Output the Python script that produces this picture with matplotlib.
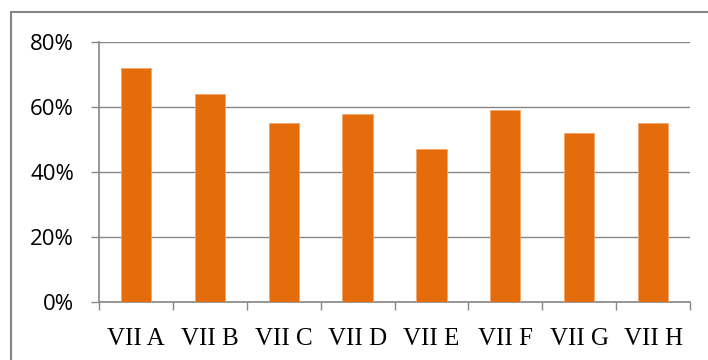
import matplotlib.pyplot as plt
from matplotlib.patches import Rectangle
from matplotlib.ticker import PercentFormatter
import numpy as np

# class sections and their share
classes = ['VII A', 'VII B', 'VII C', 'VII D', 'VII E', 'VII F', 'VII G', 'VII H']
share = [72, 64, 55, 58, 47, 59, 52, 55]

bar_color = '#E46C0A'
grey = '#868686'

fig = plt.figure(figsize=(7.08, 3.6), dpi=100)
ax = fig.add_axes([99 / 708, 58 / 360, 591 / 708, 260 / 360])

x = np.arange(len(classes))
ax.bar(x, share, width=0.41, color=bar_color, edgecolor='#F2A66A', linewidth=0.6, zorder=3)

ax.set_xlim(-0.5, len(classes) - 0.5)
ax.set_ylim(0, 80)
ax.set_yticks([0, 20, 40, 60, 80])
ax.yaxis.set_major_formatter(PercentFormatter(decimals=0))
ax.grid(axis='y', color=grey, linewidth=1.0, zorder=0)

# labels centred under bars, ticks at category boundaries
ax.set_xticks(x)
ax.set_xticklabels(classes, family='Liberation Serif', fontsize=18)
ax.set_xticks(np.arange(len(classes) + 1) - 0.5, minor=True)
ax.tick_params(axis='x', which='major', length=0, pad=19)
ax.tick_params(axis='x', which='minor', length=6, width=1.0, color=grey, direction='out')
ax.tick_params(axis='y', length=6, width=1.0, color=grey, pad=12)
for lbl in ax.get_yticklabels():
    lbl.set_family('Open Sans')
    lbl.set_fontsize(16)

for side in ['top', 'right']:
    ax.spines[side].set_visible(False)
for side in ['left', 'bottom']:
    ax.spines[side].set_color(grey)
    ax.spines[side].set_linewidth(1.2)

# outer chart border (cropped on right and bottom)
fig.patches.append(Rectangle((11 / 708, -0.1), 1.2, (348 / 360) + 0.1,
                             transform=fig.transFigure, fill=False,
                             edgecolor=grey, linewidth=1.5))

fig.savefig('out.png', dpi=100)
